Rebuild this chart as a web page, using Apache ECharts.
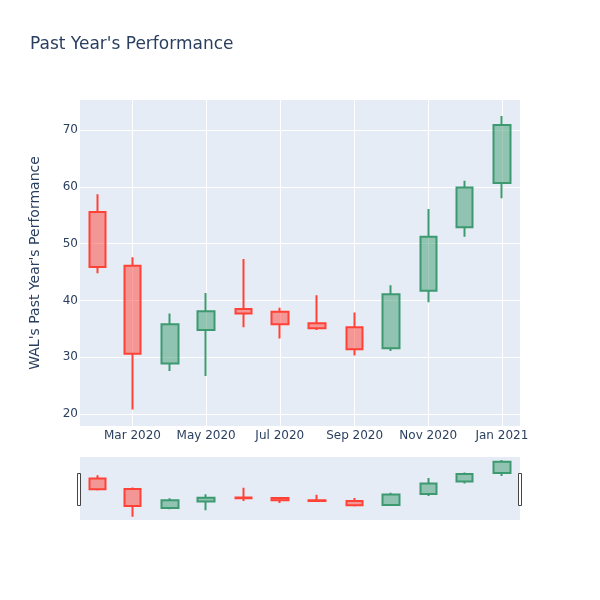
<!DOCTYPE html>
<html>
<head>
<meta charset="utf-8">
<script src="https://cdn.jsdelivr.net/npm/echarts@6/dist/echarts.min.js"></script>
<style>html,body{margin:0;padding:0;background:#fff}#c{width:600px;height:600px}</style>
</head>
<body>
<div id="c"></div>
<script>
var dates     = ['2020-02-01','2020-03-01','2020-04-01','2020-05-01','2020-06-01','2020-07-01','2020-08-01','2020-09-01','2020-10-01','2020-11-01','2020-12-01','2021-01-01'];
var openVals  = [55.6, 46.1, 28.9, 34.8, 38.5, 38.0, 36.0, 35.3, 31.6, 41.7, 52.9, 60.7];
var closeVals = [45.9, 30.6, 35.8, 38.1, 37.7, 35.8, 35.1, 31.4, 41.1, 51.2, 59.9, 70.9];
var lowVals   = [44.8, 20.8, 27.6, 26.7, 35.3, 33.3, 34.8, 30.3, 31.1, 39.7, 51.2, 58.0];
var highVals  = [58.7, 47.6, 37.7, 41.3, 47.3, 38.7, 40.9, 37.9, 42.7, 56.1, 61.1, 72.5];
var monthNames = ['Jan','Feb','Mar','Apr','May','Jun','Jul','Aug','Sep','Oct','Nov','Dec'];

var DAY = 86400000;
var ts = dates.map(function (d) { return Date.parse(d + 'T00:00:00Z'); });
var xMin = ts[0] - 14.5 * DAY;
var xMax = ts[ts.length - 1] + 15 * DAY;
var candleData = ts.map(function (t, i) {
  return [t, openVals[i], closeVals[i], lowVals[i], highVals[i]];
});
var fmt = function (v) {
  var d = new Date(v);
  return monthNames[d.getUTCMonth()] + ' ' + d.getUTCFullYear();
};

var FONT = 'DejaVu Sans';
var TXT = '#2a3f5f';
var candleStyle = {
  color: 'rgba(61,153,112,0.5)',
  color0: 'rgba(255,65,54,0.5)',
  borderColor: '#3D9970',
  borderColor0: '#FF4136',
  borderWidth: 2
};

var chart = echarts.init(document.getElementById('c'), null, {renderer: 'canvas'});
chart.setOption({
  animation: false,
  useUTC: true,
  textStyle: {fontFamily: FONT},
  title: {
    text: "Past Year's Performance",
    left: 30, top: 36, padding: 0,
    textStyle: {fontFamily: FONT, fontSize: 17, fontWeight: 'normal', color: TXT}
  },
  grid: [
    {left: 80, top: 100, width: 440, height: 326, show: true, backgroundColor: '#E5ECF6', borderWidth: 0},
    {left: 80, top: 457, width: 440, height: 63, show: true, backgroundColor: '#E5ECF6', borderWidth: 0}
  ],
  xAxis: [
    {
      type: 'time', gridIndex: 0, min: xMin, max: xMax, splitNumber: 5,
      axisLine: {show: false}, axisTick: {show: false},
      axisLabel: {formatter: fmt, color: TXT, fontSize: 12, fontFamily: FONT, margin: 4,
                  showMinLabel: false, showMaxLabel: false, hideOverlap: false},
      splitLine: {show: true, showMinLine: false, showMaxLine: false, lineStyle: {color: '#ffffff', width: 1}}
    },
    {
      type: 'time', gridIndex: 1, min: xMin, max: xMax,
      axisLine: {show: false}, axisTick: {show: false}, axisLabel: {show: false}, splitLine: {show: false}
    }
  ],
  yAxis: [
    {
      type: 'value', gridIndex: 0, min: 17.9, max: 75.3, splitNumber: 6,
      name: "WAL's Past Year's Performance", nameLocation: 'middle', nameGap: 38,
      nameTextStyle: {color: TXT, fontSize: 14, fontFamily: FONT},
      axisLine: {show: false}, axisTick: {show: false},
      axisLabel: {color: TXT, fontSize: 12, fontFamily: FONT, margin: 2, showMinLabel: false, showMaxLabel: false},
      splitLine: {show: true, showMinLine: false, showMaxLine: false, lineStyle: {color: '#ffffff', width: 1}}
    },
    {
      type: 'value', gridIndex: 1, min: 17.9, max: 75.3,
      axisLine: {show: false}, axisTick: {show: false}, axisLabel: {show: false}, splitLine: {show: false}
    }
  ],
  series: [
    {type: 'candlestick', xAxisIndex: 0, yAxisIndex: 0, data: candleData, barWidth: 17, itemStyle: candleStyle},
    {type: 'candlestick', xAxisIndex: 1, yAxisIndex: 1, data: candleData, barWidth: 17, itemStyle: candleStyle}
  ],
  graphic: [
    {type: 'rect', shape: {x: 77.5, y: 473.5, width: 3, height: 32}, style: {fill: '#ffffff', stroke: '#444444', lineWidth: 1}},
    {type: 'rect', shape: {x: 518.5, y: 473.5, width: 3, height: 32}, style: {fill: '#ffffff', stroke: '#444444', lineWidth: 1}}
  ]
});
</script>
</body>
</html>
